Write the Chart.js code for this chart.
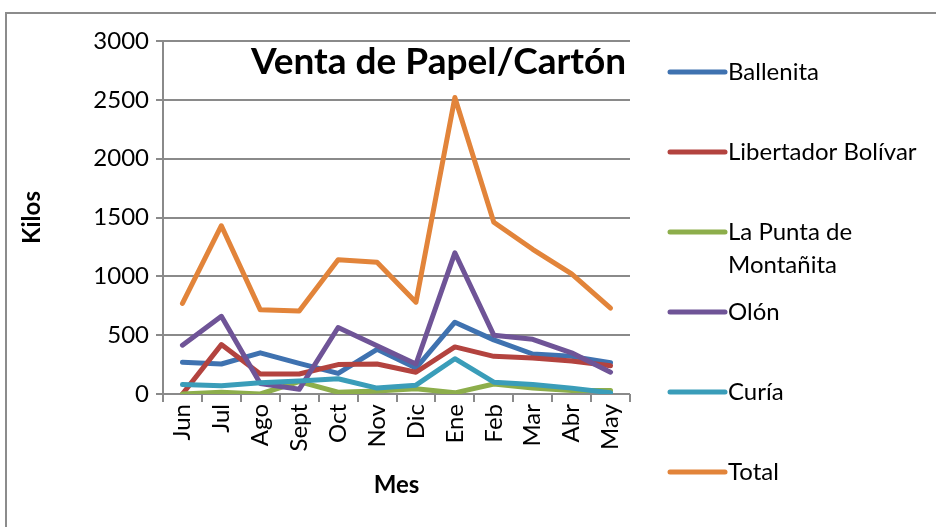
<!DOCTYPE html>
<html>
<head>
<meta charset="utf-8">
<script src="https://cdn.jsdelivr.net/npm/chart.js@4.4.1/dist/chart.umd.min.js"></script>
<style>
  html, body { margin: 0; padding: 0; background: #fff; }
  #wrap { position: relative; width: 936px; height: 527px; }
</style>
</head>
<body>
<div id="wrap"><canvas id="chart" width="936" height="527"></canvas></div>
<script>
const months = ['Jun', 'Jul', 'Ago', 'Sept', 'Oct', 'Nov', 'Dic', 'Ene', 'Feb', 'Mar', 'Abr', 'May'];

const ballenita   = [270, 255, 350, 260, 175, 380, 220, 610, 460, 340, 320, 265];
const libertador  = [0, 420, 170, 170, 250, 255, 185, 400, 320, 305, 280, 240];
const laPunta     = [0, 15, 0, 105, 15, 25, 45, 10, 85, 50, 30, 30];
const olon        = [415, 660, 90, 40, 565, 410, 255, 1200, 500, 465, 350, 185];
const curia       = [80, 70, 95, 110, 130, 50, 75, 300, 100, 80, 50, 10];
const total       = [770, 1430, 715, 705, 1140, 1120, 780, 2520, 1460, 1230, 1020, 730];

const seriesNames  = ['Ballenita', 'Libertador Bolívar', 'La Punta de Montañita', 'Olón', 'Curía', 'Total'];
const seriesValues = [ballenita, libertador, laPunta, olon, curia, total];
const seriesColors = ['#3F72B0', '#B3433F', '#8DAE4B', '#6F5497', '#3A9DB9', '#E2843A'];

const yTicks = [0, 500, 1000, 1500, 2000, 2500, 3000];

const FONT = 'Lato, "Open Sans", sans-serif';
const GRID = '#8a8a8a';

// frame, title and the right-hand legend drawn on the canvas
const decor = {
  id: 'decor',
  beforeDraw(chart) {
    const ctx = chart.ctx;
    ctx.save();
    ctx.strokeStyle = '#8c8c8c';
    ctx.lineWidth = 2;
    ctx.strokeRect(6, 13, 1000, 700);
    ctx.restore();
  },
  afterDraw(chart) {
    const ctx = chart.ctx;
    const area = chart.chartArea;
    ctx.save();
    ctx.fillStyle = '#000';
    ctx.font = 'bold 37px ' + FONT;
    ctx.textAlign = 'right';
    ctx.textBaseline = 'middle';
    ctx.fillText('Venta de Papel/Cartón', area.right - 4, 62);

    ctx.font = '24px ' + FONT;
    ctx.textAlign = 'left';
    let y = 72;
    chart.data.datasets.forEach(ds => {
      ctx.strokeStyle = ds.borderColor;
      ctx.lineWidth = 5;
      ctx.lineCap = 'round';
      ctx.beginPath();
      ctx.moveTo(670, y);
      ctx.lineTo(725, y);
      ctx.stroke();
      // simple word wrap
      const words = ds.label.split(' ');
      const lines = [];
      let cur = '';
      words.forEach(w => {
        const test = cur ? cur + ' ' + w : w;
        if (ctx.measureText(test).width > 200 && cur) { lines.push(cur); cur = w; }
        else cur = test;
      });
      lines.push(cur);
      ctx.fillStyle = '#000';
      lines.forEach((ln, i) => ctx.fillText(ln, 728, y + i * 33));
      y += 80;
    });
    ctx.restore();
  }
};

new Chart(document.getElementById('chart'), {
  type: 'line',
  data: {
    labels: months,
    datasets: seriesNames.map((name, i) => ({
      label: name,
      data: seriesValues[i],
      borderColor: seriesColors[i],
      backgroundColor: seriesColors[i],
      borderWidth: 5,
      pointRadius: 0,
      tension: 0,
      borderCapStyle: 'round',
      borderJoinStyle: 'round',
      order: seriesNames.length - i
    }))
  },
  options: {
    responsive: false,
    animation: false,
    layout: { padding: { left: 0, right: 306, top: 41, bottom: 0 } },
    plugins: {
      legend: { display: false },
      title: { display: false },
      tooltip: { enabled: false }
    },
    scales: {
      x: {
        offset: true,
        grid: { display: true, drawOnChartArea: false, offset: true, color: GRID, lineWidth: 2, tickLength: 8 },
        border: { display: false },
        ticks: {
          color: '#000', font: { family: FONT, size: 24 },
          maxRotation: 90, minRotation: 90, padding: 2, autoSkip: false
        },
        title: { display: true, text: 'Mes', color: '#000', font: { family: FONT, size: 24, weight: 'bold' }, padding: { top: 0, bottom: 27 } },
        afterFit(scale) { scale.height = 133; }
      },
      y: {
        min: 0,
        max: 3000,
        afterBuildTicks(scale) { scale.ticks = yTicks.map(v => ({ value: v })); },
        grid: { color: GRID, lineWidth: 2, tickLength: 7 },
        border: { display: true, color: GRID, width: 2 },
        ticks: { color: '#000', font: { family: FONT, size: 24 }, padding: 7, callback: v => String(v) },
        title: { display: true, text: 'Kilos', color: '#000', font: { family: FONT, size: 24, weight: 'bold' }, padding: { top: 18, bottom: 0 } },
        afterFit(scale) { scale.width = 163; }
      }
    }
  },
  plugins: [decor]
});
</script>
</body>
</html>
